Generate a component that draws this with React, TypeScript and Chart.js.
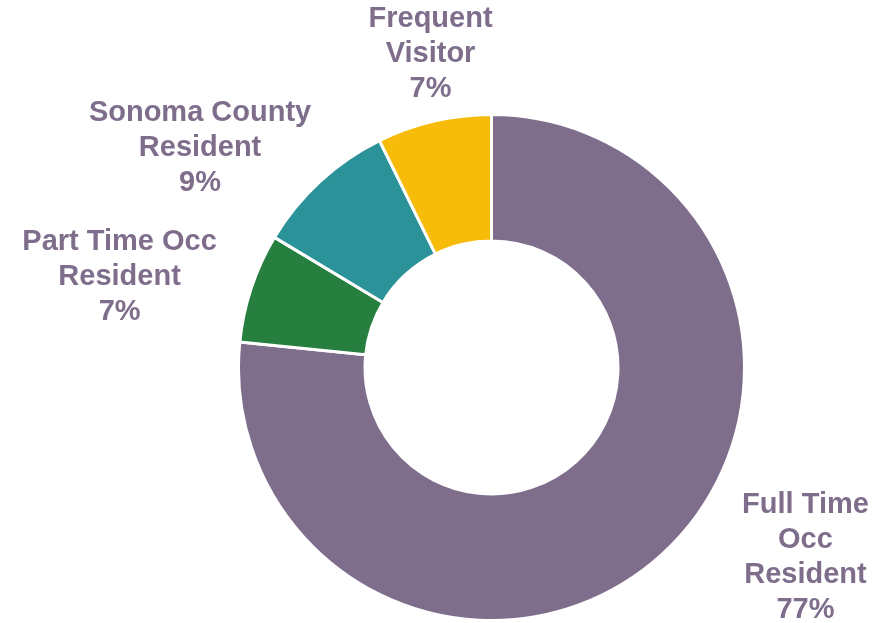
import React, { useEffect, useRef } from "react";
import { Chart, registerables } from "chart.js";

Chart.register(...registerables);

const categories = [
  "Full Time Occ Resident",
  "Part Time Occ Resident",
  "Sonoma County Resident",
  "Frequent Visitor",
];
const labelLines = [
  ["Full Time", "Occ", "Resident"],
  ["Part Time Occ", "Resident"],
  ["Sonoma County", "Resident"],
  ["Frequent", "Visitor"],
];
const values = [76.6, 7.0, 9.1, 7.3];
const colors = ["#7E6E8C", "#277F3F", "#2C9299", "#F7BB0A"];
// label block centre, relative to the doughnut centre, in units of the outer radius
const labelOffsets = [
  [1.241, 0.751],
  [-1.47, -0.356],
  [-1.152, -0.868],
  [-0.241, -1.239],
];

const labelPlugin = {
  id: "outerLabels",
  afterDraw(chart: any) {
    const ctx = chart.ctx;
    const meta = chart.getDatasetMeta(0);
    const total = values.reduce((a, b) => a + b, 0);
    ctx.save();
    ctx.fillStyle = "#7E6E8C";
    ctx.font = "bold 29px 'Liberation Sans', Arial, sans-serif";
    ctx.textAlign = "center";
    ctx.textBaseline = "middle";
    const lineH = 35;
    meta.data.forEach((arc: any, i: number) => {
      const r = arc.outerRadius;
      const cx = arc.x + labelOffsets[i][0] * r;
      const cy = arc.y + labelOffsets[i][1] * r;
      const lines = [...labelLines[i], Math.round((values[i] / total) * 100) + "%"];
      const top = cy - ((lines.length - 1) * lineH) / 2;
      lines.forEach((t, k) => ctx.fillText(t, cx, top + k * lineH));
    });
    ctx.restore();
  },
};

export default function App() {
  const ref = useRef<HTMLCanvasElement>(null);
  useEffect(() => {
    const chart = new Chart(ref.current!, {
      type: "doughnut",
      data: {
        labels: categories,
        datasets: [
          {
            data: values,
            backgroundColor: colors,
            borderColor: "#ffffff",
            borderWidth: 3,
          },
        ],
      },
      options: {
        animation: false,
        responsive: true,
        maintainAspectRatio: false,
        cutout: "50%",
        layout: { padding: { top: 113, bottom: 1, left: 237, right: 141 } },
        plugins: { legend: { display: false }, tooltip: { enabled: false } },
      },
      plugins: [labelPlugin],
    });
    return () => chart.destroy();
  }, []);
  return (
    <div style={{ position: "absolute", left: 0, top: 0, width: 887, height: 623, background: "#fff" }}>
      <canvas ref={ref} />
    </div>
  );
}
